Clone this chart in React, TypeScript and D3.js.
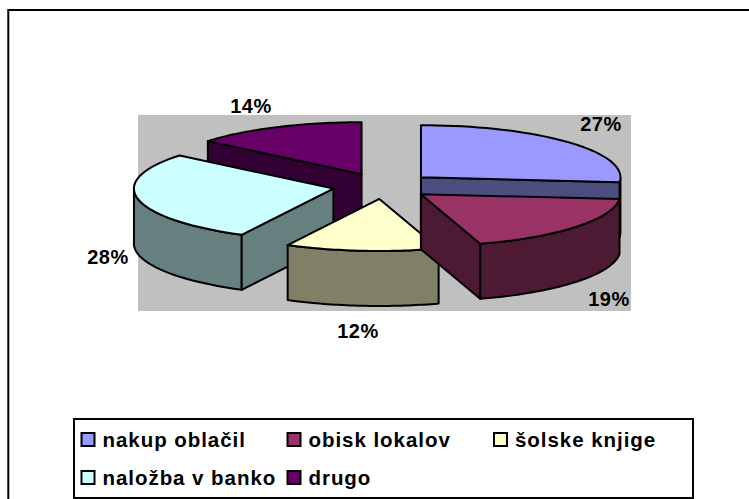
import React from "react";
import * as d3 from "d3";

const categories = ["nakup oblačil", "obisk lokalov", "šolske knjige", "naložba v banko", "drugo"];
const shares = [26.5, 18.7, 12.4, 28.4, 14];
const topColors = ["#9999FF", "#993366", "#FFFFCC", "#CCFFFF", "#660066"];
const sideColors = ["#4D4D80", "#4D1A33", "#808066", "#668080", "#330033"];
const labelAnchors = [
  [601, 124],
  [609, 299],
  [358, 331],
  [108, 257],
  [251, 106],
];
const sliceNudge = [-2, -4, 0, 1, 0];
const legendCols = [81.5, 287.5, 494];
const legendRows = [439, 477];
const drawOrder = [4, 0, 3, 2, 1];

const font = "'Liberation Sans', Arial, sans-serif";

const cx = 384;
const cy = 186;
const rx = 199.5;
const ry = 52;
const depth = 55;
const explodeX = 0.264;
const explodeY = 0.25;

export default function App() {
  const arcs = d3.pie<number>().sort(null)(shares);
  const pt = (a: number, ox: number, oy: number, dy = 0): [number, number] => [
    ox + rx * Math.sin(a),
    oy - ry * Math.cos(a) + dy,
  ];
  const line = d3.line();
  const slices = arcs.map((arc, i) => {
    const mid = (arc.startAngle + arc.endAngle) / 2;
    const ox = cx + explodeX * rx * Math.sin(mid) + sliceNudge[i];
    const oy = cy - explodeY * ry * Math.cos(mid);
    const steps = d3.range(0, 41).map((k) => arc.startAngle + ((arc.endAngle - arc.startAngle) * k) / 40);
    const rim = steps.map((a) => pt(a, ox, oy));
    const top = line([[ox, oy], ...rim, [ox, oy]])! + "Z";
    const near = steps.filter((a) => Math.cos(a) <= 0.02);
    const wall =
      near.length > 1
        ? line([...near.map((a) => pt(a, ox, oy)), ...near.slice().reverse().map((a) => pt(a, ox, oy, depth))])! + "Z"
        : null;
    const face = (a: number) => {
      const p = pt(a, ox, oy);
      return line([[ox, oy], p, [p[0], p[1] + depth], [ox, oy + depth]])! + "Z";
    };
    const faces: string[] = [];
    if (Math.sin(arc.startAngle) < -0.01) faces.push(face(arc.startAngle));
    if (Math.sin(arc.endAngle) > 0.01) faces.push(face(arc.endAngle));
    return { top, wall, faces };
  });

  return (
    <svg
      width={749}
      height={499}
      style={{ position: "absolute", left: 0, top: 0, background: "#fff" }}
      fontFamily={font}
    >
      <path d="M749,10H8.3V499" fill="none" stroke="#000" strokeWidth={2} />
      <rect x={138} y={115} width={493} height={196} fill="#C0C0C0" />
      {drawOrder.map((idx) => {
        const s = slices[idx];
        return (
          <g key={idx} stroke="#000" strokeWidth={2} strokeLinejoin="round">
            {s.wall && <path d={s.wall} fill={sideColors[idx]} />}
            {s.faces.map((d, j) => (
              <path key={j} d={d} fill={sideColors[idx]} />
            ))}
            <path d={s.top} fill={topColors[idx]} />
          </g>
        );
      })}
      {arcs.map((arc, i) => (
        <text
          key={i}
          x={labelAnchors[i][0]}
          y={labelAnchors[i][1]}
          textAnchor="middle"
          dominantBaseline="central"
          fontSize={20}
          fontWeight="bold"
          letterSpacing={0.5}
        >
          {Math.round(arc.value)}%
        </text>
      ))}
      <rect x={74} y={419} width={619} height={79} fill="#fff" stroke="#000" strokeWidth={2} />
      {categories.map((c, i) => {
        const col = legendCols[i % 3];
        const row = legendRows[Math.floor(i / 3)];
        return (
          <g key={c}>
            <rect x={col} y={row - 6} width={13} height={13} fill={topColors[i]} stroke="#000" strokeWidth={2} />
            <text x={col + 21} y={row + 8} fontSize={20.5} fontWeight="bold" letterSpacing={0.95}>
              {c}
            </text>
          </g>
        );
      })}
    </svg>
  );
}
